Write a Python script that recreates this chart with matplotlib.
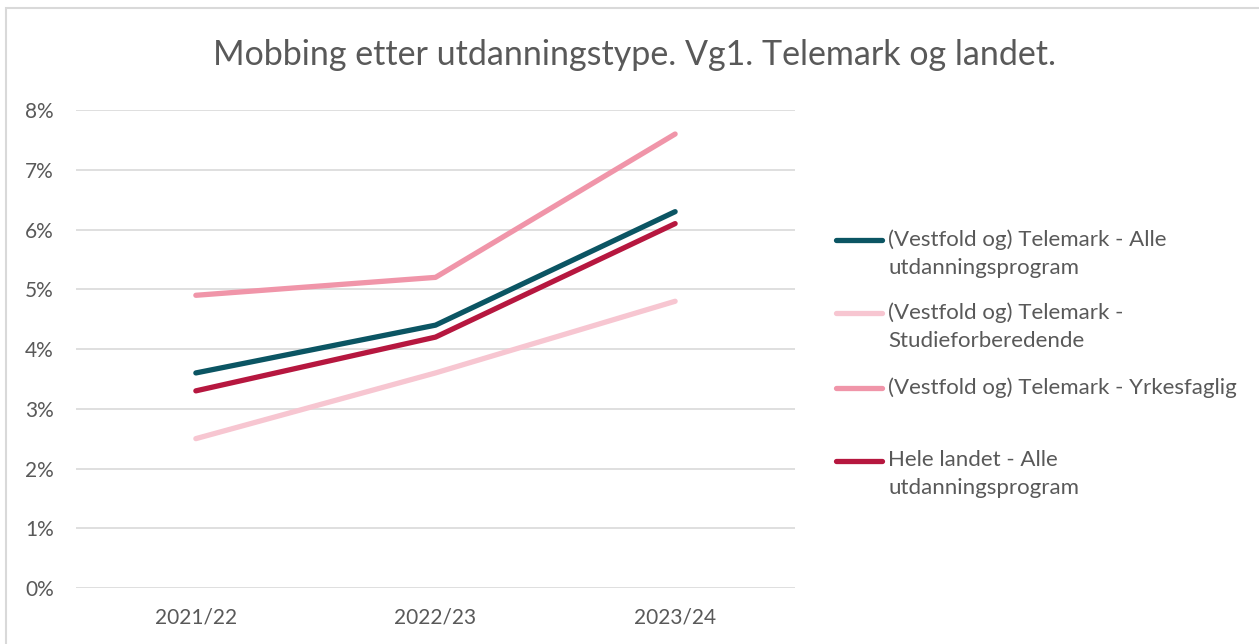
import matplotlib.pyplot as plt
from matplotlib.patches import Rectangle
from matplotlib.lines import Line2D
from matplotlib.ticker import PercentFormatter

plt.rcParams['font.family'] = ['Lato', 'DejaVu Sans']

years = ['2021/22', '2022/23', '2023/24']
telemark_alle = [0.036, 0.044, 0.063]
telemark_studie = [0.025, 0.036, 0.048]
telemark_yrkes = [0.049, 0.052, 0.076]
landet_alle = [0.033, 0.042, 0.061]

labels = ['(Vestfold og) Telemark - Alle\nutdanningsprogram',
          '(Vestfold og) Telemark -\nStudieforberedende',
          '(Vestfold og) Telemark - Yrkesfaglig',
          'Hele landet - Alle\nutdanningsprogram']
colors = ['#0B5563', '#F7C6D1', '#F095A9', '#B6173F']
grey = '#595959'

W, H = 1259, 644
fig = plt.figure(figsize=(W / 100, H / 100), dpi=100)
ax = fig.add_axes([0.0604, 0.087, 0.571, 0.742])

x = range(len(years))
for vals, lab, col in zip([telemark_alle, telemark_studie, telemark_yrkes, landet_alle], labels, colors):
    ax.plot(x, vals, color=col, lw=3.8, solid_capstyle='round', label=lab)

ax.set_xlim(-0.5, 2.5)
ax.set_ylim(0, 0.08)
ax.set_yticks([i / 100 for i in range(9)])
ax.yaxis.set_major_formatter(PercentFormatter(1.0, decimals=0))
ax.set_xticks(list(x))
ax.set_xticklabels(years)
ax.grid(axis='y', color='#D9D9D9', lw=1.2)
ax.set_axisbelow(True)
for s in ax.spines.values():
    s.set_visible(False)
ax.tick_params(length=0, labelsize=15, labelcolor=grey)
ax.tick_params(axis='y', pad=16)
ax.tick_params(axis='x', pad=14)

fig.text(0.5036, 1 - 55 / H, 'Mobbing etter utdanningstype. Vg1. Telemark og landet.',
         ha='center', va='center', fontsize=24.5, color=grey)

# legend drawn by hand so the marker sits on the first text line, like Excel
leg_y = [240, 313, 388, 461]
for lab, col, yy in zip(labels, colors, leg_y):
    fy = 1 - yy / H
    fig.add_artist(Line2D([836 / W, 882 / W], [fy, fy], transform=fig.transFigure,
                          color=col, lw=3.8, solid_capstyle='round'))
    fig.text(888 / W, 1 - (yy - 11) / H, lab, ha='left', va='top',
             fontsize=16, color=grey, linespacing=1.5)

fig.add_artist(Rectangle((0.005, -0.01), 1.0, 0.998, transform=fig.transFigure,
                         fill=False, edgecolor='#D9D9D9', lw=1.5))

fig.savefig('out.png', dpi=100)
